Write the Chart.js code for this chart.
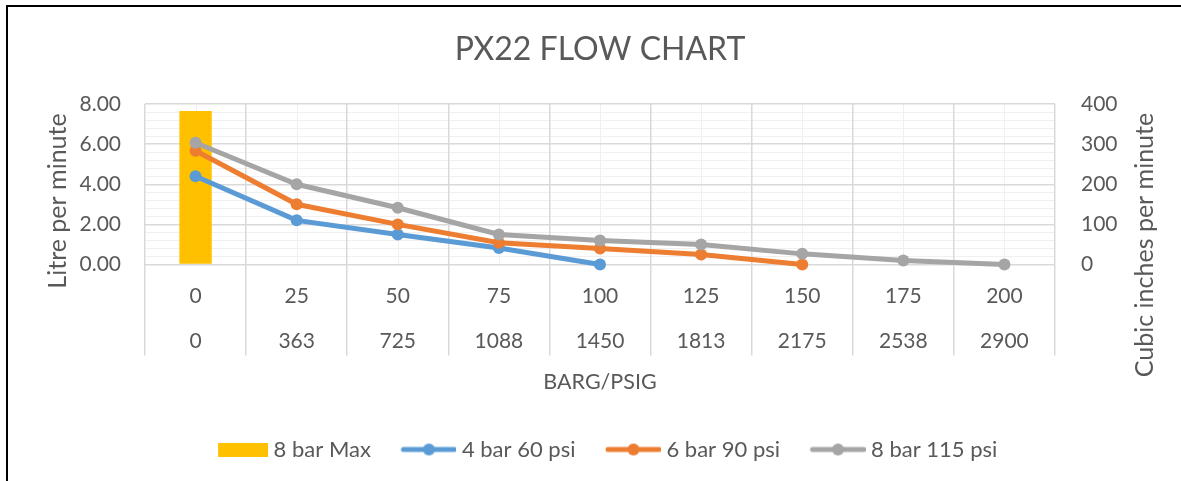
<!DOCTYPE html>
<html>
<head>
<meta charset="utf-8">
<script src="https://cdn.jsdelivr.net/npm/chart.js@4.4.1/dist/chart.umd.min.js"></script>
<style>
  html, body { margin: 0; padding: 0; background: #fff; overflow: hidden; }
  #wrap { position: relative; width: 1181px; height: 481px; }
  #frame { position: absolute; left: 6px; top: 5px; width: 1200px; height: 520px;
           border-top: 2px solid #000; border-left: 2px solid #000; pointer-events: none; }
  canvas { position: absolute; left: 0; top: 0; }
</style>
</head>
<body>
<div id="wrap">
  <canvas id="c"></canvas>
  <div id="frame"></div>
</div>
<script>
// ---- data ----
const barLabels = ['0', '25', '50', '75', '100', '125', '150', '175', '200'];
const psiLabels = ['0', '363', '725', '1088', '1450', '1813', '2175', '2538', '2900'];
const maxBar   = [7.65, null, null, null, null, null, null, null, null];
const bar4     = [4.40, 2.20, 1.50, 0.82, 0.00, null, null, null, null];
const bar6     = [5.67, 3.00, 2.00, 1.08, 0.80, 0.50, 0.00, null, null];
const bar8     = [6.07, 4.00, 2.83, 1.50, 1.20, 1.00, 0.53, 0.20, 0.00];
const leftTicks  = [0, 2, 4, 6, 8];
const rightTicks = [0, 100, 200, 300, 400];
const leftTitle  = 'Litre per minute';
const rightTitle = 'Cubic inches per minute';

const TXT = '#595959';
const FONT = 'Lato, "Open Sans", sans-serif';
const C_YEL = '#FFC000', C_BLUE = '#5B9BD5', C_ORA = '#ED7D31', C_GRAY = '#A5A5A5';

const labels = barLabels.map((b, i) => [b, psiLabels[i]]);

// legend swatches: image is 11px wider than the legend box, content right-aligned
const SW_BOX = 60, SW_IMG = 71, SW_H = 14;
function swatchBar(color) {
  const cv = document.createElement('canvas');
  cv.width = SW_IMG; cv.height = SW_H;
  const g = cv.getContext('2d');
  g.fillStyle = color; g.fillRect(SW_IMG - 50, 0, 50, SW_H);
  return cv;
}
function swatchLine(color) {
  const cv = document.createElement('canvas');
  cv.width = SW_IMG; cv.height = SW_H;
  const g = cv.getContext('2d');
  const x0 = SW_IMG - 55 + 2, x1 = SW_IMG - 2;
  g.strokeStyle = color; g.lineWidth = 5; g.lineCap = 'round';
  g.beginPath(); g.moveTo(x0, SW_H / 2); g.lineTo(x1, SW_H / 2); g.stroke();
  g.fillStyle = color; g.beginPath(); g.arc((x0 + x1) / 2, SW_H / 2, 6, 0, Math.PI * 2); g.fill();
  return cv;
}
const swatches = [swatchBar(C_YEL), swatchLine(C_BLUE), swatchLine(C_ORA), swatchLine(C_GRAY)];

const minorGrid = {
  id: 'minorGrid',
  beforeDraw(chart) {
    const { ctx, chartArea: a, scales: { x, y } } = chart;
    ctx.save();
    ctx.strokeStyle = '#f0f0f0';
    ctx.lineWidth = 1;
    for (let k = 0; k <= 20; k++) {
      if (k % 5 === 0) continue;
      const py = Math.round(y.getPixelForValue(k * 0.4)) + 0.5;
      ctx.beginPath(); ctx.moveTo(a.left, py); ctx.lineTo(a.right, py); ctx.stroke();
    }
    for (let i = 0; i < barLabels.length; i++) {
      const px = Math.round(x.getPixelForValue(i)) + 0.5;
      ctx.beginPath(); ctx.moveTo(px, a.top); ctx.lineTo(px, a.bottom); ctx.stroke();
    }
    ctx.restore();
  }
};

// vertical axis titles (Excel places them lower than the plot-area centre)
const axisTitles = {
  id: 'axisTitles',
  afterDraw(chart) {
    const { ctx, chartArea: a } = chart;
    ctx.save();
    ctx.fillStyle = TXT;
    ctx.font = '25px ' + FONT;
    ctx.textAlign = 'center';
    ctx.textBaseline = 'middle';
    ctx.translate(a.left - 87, a.top + 97);
    ctx.rotate(-Math.PI / 2);
    ctx.fillText(leftTitle, 0, 0);
    ctx.restore();
    ctx.save();
    ctx.fillStyle = TXT;
    ctx.font = '25px ' + FONT;
    ctx.textAlign = 'center';
    ctx.textBaseline = 'middle';
    ctx.translate(a.right + 90, a.top + 141);
    ctx.rotate(-Math.PI / 2);
    ctx.fillText(rightTitle, 0, 0);
    ctx.restore();
  }
};

const lineDs = (label, data, color, order) => ({
  type: 'line', label, data, borderColor: color, backgroundColor: color,
  borderWidth: 5, pointRadius: 6, pointHoverRadius: 6, pointBorderWidth: 0, yAxisID: 'y', order,
  clip: false
});

new Chart(document.getElementById('c'), {
  data: {
    labels: labels,
    datasets: [
      { type: 'bar', label: '8 bar Max', data: maxBar, backgroundColor: C_YEL,
        barPercentage: 0.32, categoryPercentage: 1.0, yAxisID: 'y', order: 4 },
      lineDs('4 bar 60 psi', bar4, C_BLUE, 3),
      lineDs('6 bar 90 psi', bar6, C_ORA, 2),
      lineDs('8 bar 115 psi', bar8, C_GRAY, 1)
    ]
  },
  options: {
    responsive: true,
    maintainAspectRatio: false,
    animation: false,
    layout: { padding: { left: 19, right: 0, top: 0, bottom: 10.5 } },
    plugins: {
      tooltip: { enabled: false },
      title: {
        display: true, text: 'PX22 FLOW CHART', color: TXT,
        font: { family: FONT, size: 32, weight: 'normal', lineHeight: 1.2 },
        padding: { top: 30.8, bottom: 34.8 }
      },
      legend: {
        position: 'bottom',
        labels: {
          usePointStyle: true,
          pointStyleWidth: SW_BOX,
          padding: 20,
          color: TXT,
          font: { family: FONT, size: 22 },
          boxHeight: 23,
          generateLabels(chart) {
            return chart.data.datasets.map((ds, i) => ({
              text: ds.label,
              pointStyle: swatches[i],
              fillStyle: 'transparent',
              strokeStyle: 'transparent',
              lineWidth: 0,
              fontColor: TXT,
              hidden: false,
              datasetIndex: i
            }));
          }
        }
      }
    },
    scales: {
      x: {
        type: 'category',
        offset: true,
        grid: { offset: true, color: '#d9d9d9', drawTicks: true, tickLength: 91, tickColor: '#d9d9d9', lineWidth: 1.5 },
        border: { display: false },
        ticks: { color: TXT, font: { family: FONT, size: 21, lineHeight: '45px' }, padding: -81.5, maxRotation: 0, autoSkip: false },
        title: { display: true, text: 'BARG/PSIG', color: TXT, font: { family: FONT, size: 21.5, lineHeight: 1.2 }, padding: { top: 0, bottom: 23.1 } },
        afterFit(s) { s.height = 154; }
      },
      y: {
        position: 'left', min: 0, max: 8,
        afterBuildTicks(s) { s.ticks = leftTicks.map(v => ({ value: v })); },
        grid: { color: '#d9d9d9', drawTicks: false, lineWidth: 1.5 },
        border: { display: false },
        ticks: { color: TXT, font: { family: FONT, size: 21 }, padding: 24, callback: v => Number(v).toFixed(2) },
        afterFit(s) { s.width = 126; }
      },
      y2: {
        position: 'right', min: 0, max: 400,
        afterBuildTicks(s) { s.ticks = rightTicks.map(v => ({ value: v })); },
        grid: { drawOnChartArea: false, drawTicks: false },
        border: { display: false },
        ticks: { color: TXT, font: { family: FONT, size: 21 }, padding: 26 },
        afterFit(s) { s.width = 126; }
      }
    }
  },
  plugins: [minorGrid, axisTitles]
});
</script>
</body>
</html>
